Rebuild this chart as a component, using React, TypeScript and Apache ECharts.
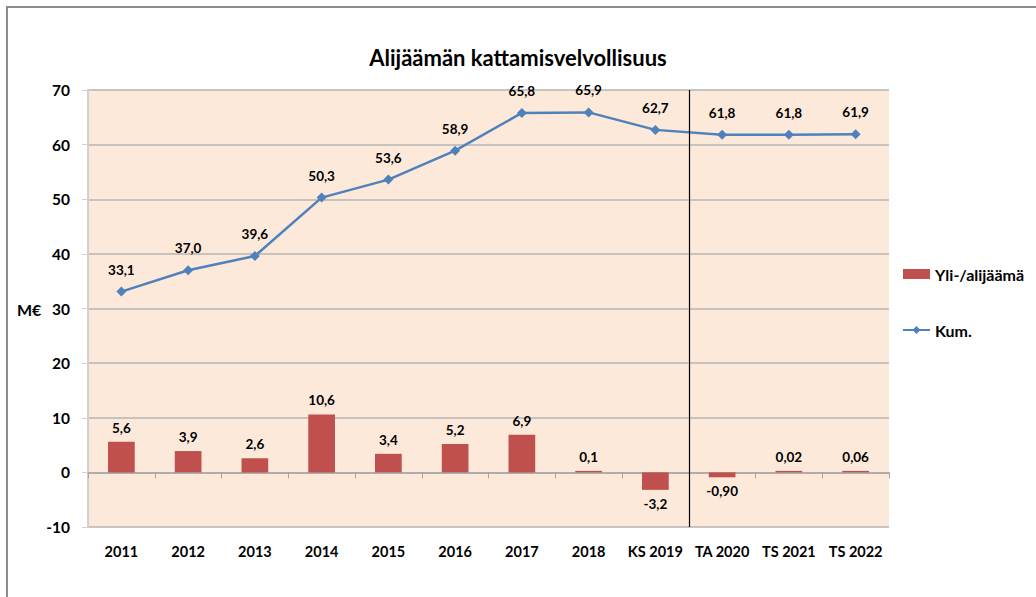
import React, { useEffect, useRef } from "react";
import * as echarts from "echarts";

const categories = ["2011", "2012", "2013", "2014", "2015", "2016", "2017", "2018", "KS 2019", "TA 2020", "TS 2021", "TS 2022"];
const surplus = [5.6, 3.9, 2.6, 10.6, 3.4, 5.2, 6.9, 0.1, -3.2, -0.9, 0.02, 0.06];
const surplusLabels = ["5,6", "3,9", "2,6", "10,6", "3,4", "5,2", "6,9", "0,1", "-3,2", "-0,90", "0,02", "0,06"];
const cumulative = [33.1, 37.0, 39.6, 50.3, 53.6, 58.9, 65.8, 65.9, 62.7, 61.8, 61.8, 61.9];
const dividerAt = 9;

const FONT = "Lato, 'Open Sans', sans-serif";

export default function App() {
  const ref = useRef<HTMLDivElement>(null);
  useEffect(() => {
    if (!ref.current) return;
    const chart = echarts.init(ref.current, null, { renderer: "svg" });
    chart.setOption({
      animation: false,
      backgroundColor: "#ffffff",
      textStyle: { fontFamily: FONT },
      title: {
        text: "Alijäämän kattamisvelvollisuus",
        left: "center",
        top: 41,
        textStyle: { fontFamily: FONT, fontWeight: "bold", fontSize: 22, color: "#000" },
      },
      graphic: [
        {
          type: "polyline",
          shape: { points: [[7, 600], [7, 7], [1040, 7]] },
          style: { stroke: "#8c8c8c", lineWidth: 2, fill: "none" },
          silent: true,
        },
        {
          type: "text",
          left: 17,
          top: 301,
          style: { text: "M€", fontFamily: FONT, fontWeight: "bold", fontSize: 16, fill: "#000" },
        },
      ],
      legend: {
        orient: "vertical",
        left: 897,
        top: 261,
        itemGap: 40,
        itemWidth: 27,
        itemHeight: 10,
        textStyle: { fontFamily: FONT, fontWeight: "bold", fontSize: 16, color: "#000" },
        data: [
          { name: "Yli-/alijäämä", icon: "rect" },
          { name: "Kum." },
        ],
      },
      grid: {
        left: 88,
        right: 147,
        top: 90,
        bottom: 70,
        show: true,
        backgroundColor: "#FDE9D9",
        borderWidth: 0,
      },
      xAxis: [
        {
          type: "category",
          data: categories,
          position: "bottom",
          axisLine: { onZero: false, show: false },
          axisTick: { show: false },
          axisLabel: { fontFamily: FONT, fontWeight: "bold", fontSize: 14.5, color: "#000", margin: 17, interval: 0 },
          splitLine: { show: false },
        },
        {
          type: "category",
          data: categories,
          position: "bottom",
          axisLine: { onZero: true, show: true, lineStyle: { color: "#A6A6A6", width: 1.5 } },
          axisTick: { show: true, length: 6, lineStyle: { color: "#A6A6A6" } },
          axisLabel: { show: false },
          splitLine: { show: false },
        },
        {
          type: "value",
          min: 0,
          max: categories.length,
          show: false,
        },
      ],
      yAxis: {
        type: "value",
        min: -10,
        max: 70,
        interval: 10,
        axisLine: { show: true, lineStyle: { color: "#D0D0D0", width: 2 } },
        axisTick: { show: true, length: 6, lineStyle: { color: "#D0D0D0" } },
        axisLabel: { fontFamily: FONT, fontWeight: "bold", fontSize: 15.5, color: "#000", margin: 18 },
        splitLine: { show: true, lineStyle: { color: "#B5B5B5", width: 1.5 } },
      },
      series: [
        {
          name: "Yli-/alijäämä",
          type: "bar",
          data: surplus.map((v, i) => ({
            value: v,
            label: {
              show: true,
              position: v < 0 ? "bottom" : "top",
              formatter: surplusLabels[i],
            },
          })),
          barWidth: "40%",
          barMinHeight: 1.5,
          itemStyle: { color: "#C0504D" },
          label: { fontFamily: FONT, fontWeight: "bold", fontSize: 13.5, color: "#000", distance: 7 },
          z: 2,
        },
        {
          name: "Kum.",
          type: "line",
          data: cumulative,
          symbol: "diamond",
          symbolSize: 10,
          lineStyle: { color: "#4F81BD", width: 2.5 },
          itemStyle: { color: "#4F81BD" },
          label: {
            show: true,
            position: "top",
            distance: 10,
            fontFamily: FONT,
            fontWeight: "bold",
            fontSize: 13.5,
            color: "#000",
            formatter: (p: any) => p.value.toFixed(1).replace(".", ","),
          },
          z: 3,
        },
        {
          name: "divider",
          type: "line",
          xAxisIndex: 2,
          data: [],
          markLine: {
            silent: true,
            symbol: "none",
            label: { show: false },
            lineStyle: { color: "#000", type: "solid", width: 1.2 },
            data: [[{ coord: [dividerAt, 70] }, { coord: [dividerAt, -10] }]],
          },
        },
      ],
    });
    return () => chart.dispose();
  }, []);
  return <div ref={ref} style={{ width: 1036, height: 597, position: "absolute", left: 0, top: 0 }} />;
}
